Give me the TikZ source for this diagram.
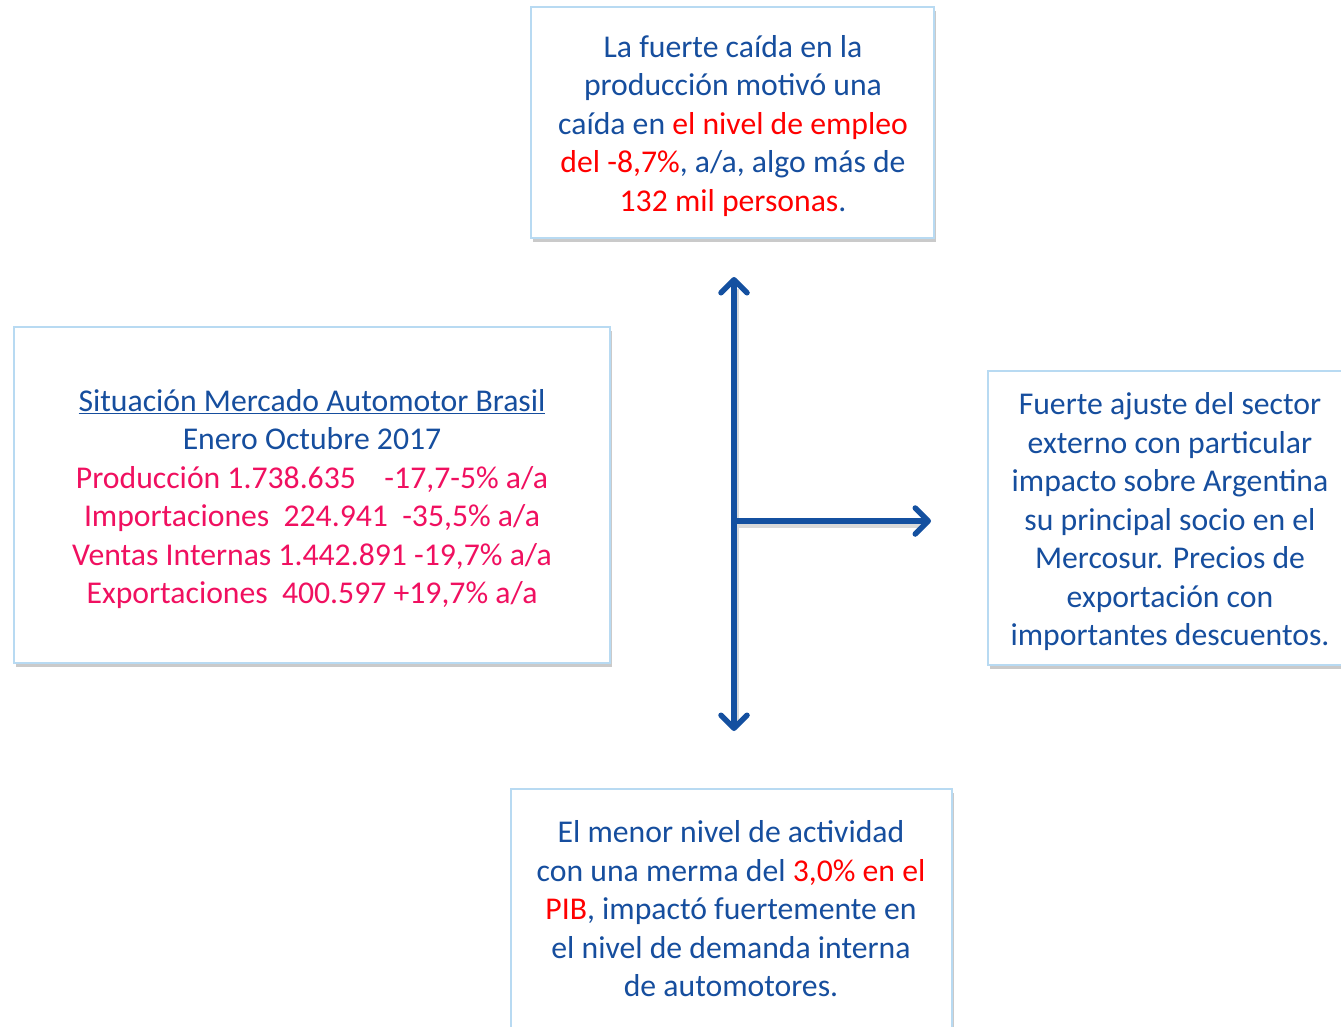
\documentclass[tikz,border=0pt]{standalone}
\usepackage{fontspec}
\setmainfont{Carlito}
\usetikzlibrary{arrows.meta,shadows}
\definecolor{txtblue}{RGB}{22,78,158}
\definecolor{arrblue}{RGB}{20,80,160}
\definecolor{boxline}{RGB}{184,218,242}
\definecolor{hired}{RGB}{255,0,0}
\definecolor{hipink}{RGB}{240,16,96}
\begin{document}
\begin{tikzpicture}[x=1pt,y=-1pt,
  panel/.style={draw=boxline,line width=2pt,fill=white,
    drop shadow={shadow xshift=2pt,shadow yshift=-4pt,opacity=0.35,fill=black!60}},
  txt/.style={align=center,text=txtblue,inner sep=0pt,
    font=\fontsize{31.7}{38.5}\selectfont},
  conn/.style={draw=arrblue,line width=5.5pt,line cap=round},
  shade/.style={draw=black!15,line width=5pt,line cap=butt},
  tipb/.tip={Straight Barb[length=13pt,width=26pt,round]}]
\useasboundingbox (0,0) rectangle (1341,1026);
% boxes
\path[panel] (531,7) rectangle (934,238);
\path[panel] (14,327) rectangle (610,663);
\path[panel] (988,371) rectangle (1350,665);
\path[panel] (511,789) rectangle (952,1040);
% texts
\node[txt] (top) at (733,126) {La fuerte caída en la\\producción motivó una\\caída en \textcolor{hired}{el nivel de empleo}\\\textcolor{hired}{del -8,7\%}, a/a, algo más de\\\textcolor{hired}{132 mil personas}.};
\node[txt] (left) at (312,499) {\underline{Situación Mercado Automotor Brasil}\\Enero Octubre 2017\\\textcolor{hipink}{Producción 1.738.635\hspace{0.9em}-17,7-5\% a/a}\\\textcolor{hipink}{Importaciones\hspace{0.45em}224.941\hspace{0.45em}-35,5\% a/a}\\\textcolor{hipink}{Ventas Internas 1.442.891 -19,7\% a/a}\\\textcolor{hipink}{Exportaciones\hspace{0.45em}400.597 +19,7\% a/a}};
\node[txt] (right) at (1170,522) {Fuerte ajuste del sector\\externo con particular\\impacto sobre Argentina\\su principal socio en el\\Mercosur. Precios de\\exportación con\\importantes descuentos.};
\node[txt] (bottom) at (731,909) {El menor nivel de actividad\\con una merma del \textcolor{hired}{3,0\% en el}\\\textcolor{hired}{PIB}, impactó fuertemente en\\el nivel de demanda interna\\de automotores.};
% connectors
\coordinate (j) at (734,521);
\coordinate (up) at (734,277);
\coordinate (dn) at (734,731);
\coordinate (rt) at (931,521);
\draw[shade] ([shift={(2,-10)}]dn) -- ([shift={(2,12)}]up);
\draw[shade] ([shift={(3,4)}]j) -- ([shift={(-8,4)}]rt);
\draw[conn,tipb-tipb] (dn) -- (up);
\draw[conn,-tipb] (j) -- (rt);
\end{tikzpicture}
\end{document}
